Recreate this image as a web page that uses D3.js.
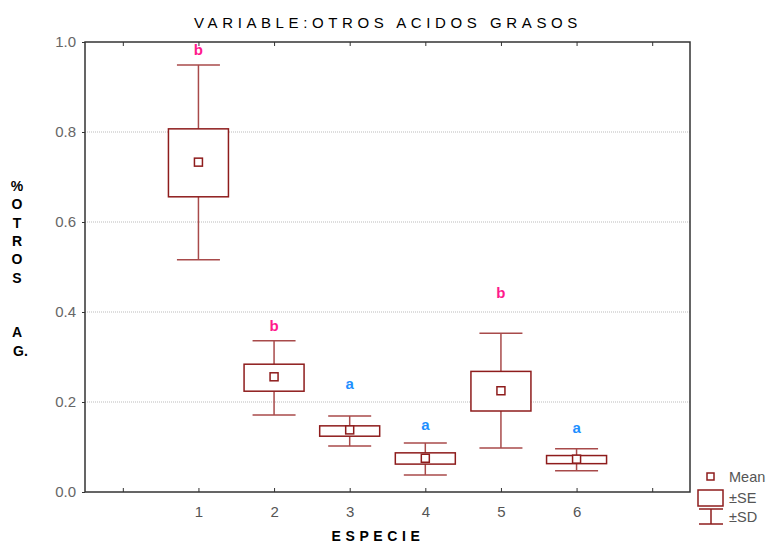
<!DOCTYPE html>
<html><head><meta charset="utf-8">
<script src="https://cdn.jsdelivr.net/npm/d3@7"></script>
<style>body{margin:0;background:#fff}svg{display:block}</style>
</head><body><svg id="c" width="768" height="546"></svg>
<script>
const categories = [1, 2, 3, 4, 5, 6];
const means   = [0.733, 0.256, 0.138, 0.075, 0.225, 0.073];
const seLow   = [0.656, 0.224, 0.124, 0.062, 0.180, 0.063];
const seHigh  = [0.807, 0.284, 0.147, 0.087, 0.268, 0.081];
const sdLow   = [0.516, 0.171, 0.102, 0.038, 0.098, 0.047];
const sdHigh  = [0.949, 0.336, 0.169, 0.109, 0.353, 0.096];
const letters = ["b", "b", "a", "a", "b", "a"];
const letterY = [0.982, 0.369, 0.240, 0.149, 0.442, 0.142];
const yTicks = [0.0, 0.2, 0.4, 0.6, 0.8, 1.0];
const xTicks = [0, 1, 2, 3, 4, 5, 6, 7];
const yLabel = ["%", "O", "T", "R", "O", "S", "", "", "A", "G."];

const svg = d3.select("#c");
const L = 85, R = 690, T = 42, B = 492;
const x = d3.scaleLinear().domain([-0.5, 7.5]).range([L, R]);
const y = d3.scaleLinear().domain([0, 1]).range([B, T]);
const boxCol = "#8e1c1c", whCol = "#a84a4a";
const font = "Liberation Sans, Arial, sans-serif";

// grid
svg.append("g").selectAll("line").data(yTicks.filter(d => d > 0 && d < 1)).join("line")
  .attr("x1", L).attr("x2", R).attr("y1", d => y(d)).attr("y2", d => y(d))
  .attr("stroke", "#bbb").attr("stroke-width", 1).attr("stroke-dasharray", "1,1");

// axes
const yAxis = svg.append("g").attr("transform", `translate(${L},0)`)
  .call(d3.axisLeft(y).tickValues(yTicks).tickFormat(d3.format(".1f")).tickSize(3).tickPadding(6));
yAxis.select(".domain").remove();
yAxis.selectAll("text").attr("font-family", font).attr("font-size", 15).attr("fill", "#666");
yAxis.selectAll("line").attr("stroke", "#333");

const xAxis = svg.append("g").attr("transform", `translate(0,${B})`)
  .call(d3.axisBottom(x).tickValues(xTicks).tickSize(-4).tickPadding(14)
    .tickFormat(d => categories.includes(d) ? d : ""));
xAxis.select(".domain").remove();
xAxis.selectAll("text").attr("font-family", font).attr("font-size", 15).attr("fill", "#555");
xAxis.selectAll("line").attr("stroke", "#333");

const xTop = svg.append("g").attr("transform", `translate(0,${T})`)
  .call(d3.axisTop(x).tickValues(xTicks).tickSize(-4).tickFormat(""));
xTop.select(".domain").remove();
xTop.selectAll("line").attr("stroke", "#333");

svg.append("rect").attr("x", L).attr("y", T).attr("width", R - L).attr("height", B - T)
  .attr("fill", "none").attr("stroke", "#333").attr("stroke-width", 1.5);

// boxes
const bw = 60, cw = 43, mw = 8;
const g = svg.append("g");
categories.forEach((c, i) => {
  const cx = x(c);
  g.append("line").attr("x1", cx).attr("x2", cx).attr("y1", y(sdHigh[i])).attr("y2", y(seHigh[i]))
    .attr("stroke", whCol).attr("stroke-width", 1.5);
  g.append("line").attr("x1", cx).attr("x2", cx).attr("y1", y(seLow[i])).attr("y2", y(sdLow[i]))
    .attr("stroke", whCol).attr("stroke-width", 1.5);
  [sdHigh[i], sdLow[i]].forEach(v => g.append("line").attr("x1", cx - cw / 2).attr("x2", cx + cw / 2)
    .attr("y1", y(v)).attr("y2", y(v)).attr("stroke", whCol).attr("stroke-width", 1.5));
  g.append("rect").attr("x", cx - bw / 2).attr("y", y(seHigh[i])).attr("width", bw)
    .attr("height", y(seLow[i]) - y(seHigh[i])).attr("fill", "#fff").attr("stroke", boxCol).attr("stroke-width", 1.5);
  g.append("rect").attr("x", cx - mw / 2).attr("y", y(means[i]) - mw / 2).attr("width", mw).attr("height", mw)
    .attr("fill", "#fff").attr("stroke", boxCol).attr("stroke-width", 1.5);
  g.append("text").attr("x", cx).attr("y", y(letterY[i])).attr("dy", "0.35em").attr("text-anchor", "middle")
    .attr("font-family", font).attr("font-weight", "bold").attr("font-size", 15)
    .attr("fill", letters[i] === "b" ? "#ff1a8c" : "#1e8fff").text(letters[i]);
});

// title
svg.append("text").attr("x", 388).attr("y", 28).attr("text-anchor", "middle")
  .attr("font-family", font).attr("font-size", 15).attr("letter-spacing", "4.6px")
  .text("VARIABLE:OTROS ACIDOS GRASOS");
svg.append("text").attr("x", 378).attr("y", 541).attr("text-anchor", "middle")
  .attr("font-family", font).attr("font-weight", "bold").attr("font-size", 14).attr("letter-spacing", "4.6px")
  .text("ESPECIE");
yLabel.forEach((t, i) => svg.append("text").attr("x", t === "G." ? 13 : 17).attr("y", 191 + i * 18.3)
  .attr("text-anchor", t === "G." ? "start" : "middle")
  .attr("font-family", font).attr("font-weight", "bold").attr("font-size", 14).text(t));

// legend
const lg = svg.append("g");
lg.append("rect").attr("x", 707).attr("y", 473).attr("width", 7).attr("height", 7)
  .attr("fill", "#fff").attr("stroke", boxCol).attr("stroke-width", 1.5);
lg.append("rect").attr("x", 698).attr("y", 490).attr("width", 25).attr("height", 16)
  .attr("fill", "#fff").attr("stroke", boxCol).attr("stroke-width", 1.5);
lg.append("line").attr("x1", 699).attr("x2", 723).attr("y1", 509).attr("y2", 509).attr("stroke", boxCol).attr("stroke-width", 1.5);
lg.append("line").attr("x1", 699).attr("x2", 723).attr("y1", 524).attr("y2", 524).attr("stroke", boxCol).attr("stroke-width", 1.5);
lg.append("line").attr("x1", 711).attr("x2", 711).attr("y1", 509).attr("y2", 524).attr("stroke", boxCol).attr("stroke-width", 1.5);
[["Mean", 482], ["±SE", 503], ["±SD", 522]].forEach(([t, yy]) =>
  lg.append("text").attr("x", 729).attr("y", yy).attr("font-family", font).attr("font-size", 14.5)
    .attr("fill", "#555").text(t));
</script></body></html>
